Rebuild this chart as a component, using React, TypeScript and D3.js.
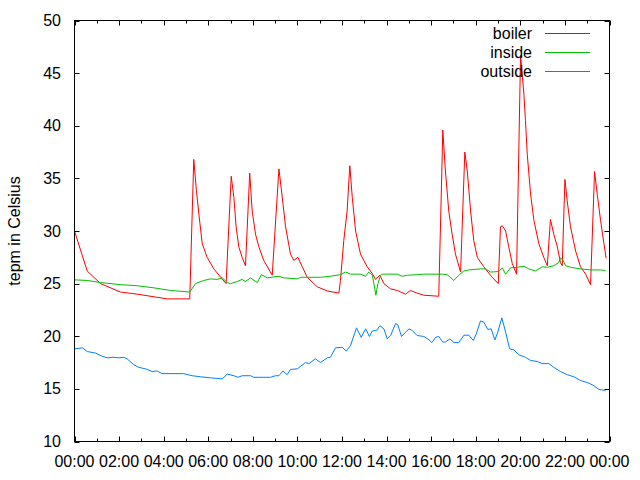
import React from "react";
import * as d3 from "d3";

// time in hours since 00:00
const boilerTimes = [0, 0.57, 1.17, 2.06, 2.81, 4.16, 5.17, 5.35, 5.47, 5.58, 5.73, 5.95, 6.25, 6.8, 7.03, 7.15, 7.25, 7.37, 7.52, 7.67, 7.86, 7.97, 8.12, 8.27, 8.49, 8.87, 9.17, 9.32, 9.47, 9.69, 9.84, 10.02, 10.22, 10.44, 10.89, 11.34, 11.86, 11.93, 12.08, 12.23, 12.35, 12.46, 12.61, 12.83, 13.13, 13.38, 13.5, 13.7, 13.88, 14.18, 14.48, 14.85, 15.07, 15.37, 15.67, 16.34, 16.5, 16.52, 16.64, 16.79, 16.94, 17.09, 17.32, 17.51, 17.62, 17.77, 17.91, 18.07, 18.36, 18.74, 19.01, 19.11, 19.19, 19.34, 19.48, 19.64, 19.83, 20.01, 20.16, 20.23, 20.31, 20.46, 20.61, 20.83, 21.05, 21.21, 21.35, 21.5, 21.66, 21.8, 21.88, 22.0, 22.1, 22.25, 22.48, 22.7, 22.93, 23.15, 23.33, 23.45, 23.6, 23.75, 23.85];
const boilerValues = [30.0, 26.2, 25.0, 24.2, 24.0, 23.55, 23.55, 36.8, 33.85, 31.6, 28.8, 27.5, 26.4, 25.0, 35.2, 33.2, 30.4, 28.5, 27.5, 26.7, 35.5, 31.9, 29.7, 28.5, 27.2, 25.8, 35.9, 33.2, 30.4, 27.8, 27.2, 27.5, 26.6, 25.6, 24.7, 24.3, 24.1, 25.3, 29.1, 31.9, 36.2, 33.2, 30.0, 27.8, 26.6, 25.9, 25.4, 25.8, 25.0, 24.5, 24.35, 24.0, 24.35, 24.1, 23.9, 23.8, 37.6, 39.6, 35.7, 31.9, 29.7, 27.8, 26.1, 37.5, 35.7, 31.9, 29.1, 27.5, 26.6, 25.6, 25.0, 30.4, 30.5, 30.0, 28.5, 26.9, 25.9, 46.7, 43.0, 40.5, 37.3, 33.5, 31.0, 28.8, 27.5, 26.7, 31.1, 29.7, 28.5, 27.0, 26.7, 34.9, 32.9, 30.4, 28.1, 26.6, 25.9, 24.9, 35.65, 33.5, 31.0, 28.8, 27.4];

const insideTimes = [0, 0.57, 1.17, 2.06, 2.81, 3.56, 4.31, 5.17, 5.43, 5.8, 6.1, 6.4, 6.63, 6.85, 7.0, 7.3, 7.52, 7.67, 7.9, 8.2, 8.38, 8.65, 9.17, 9.39, 9.99, 10.14, 11.04, 11.48, 11.93, 12.16, 12.38, 12.83, 13.06, 13.2, 13.36, 13.43, 13.52, 13.61, 13.73, 13.81, 14.48, 14.7, 14.93, 15.37, 15.67, 16.5, 16.72, 17.02, 17.24, 17.47, 17.69, 18.21, 18.44, 18.66, 19.04, 19.19, 19.34, 19.56, 19.86, 20.16, 20.38, 20.68, 20.98, 21.21, 21.5, 21.73, 21.8, 21.91, 22.03, 22.25, 22.7, 23.15, 23.6, 23.82];
const insideValues = [25.36, 25.3, 25.1, 24.9, 24.8, 24.6, 24.35, 24.2, 25.0, 25.3, 25.45, 25.4, 25.55, 25.1, 25.0, 25.2, 25.4, 25.2, 25.55, 25.1, 25.85, 25.55, 25.7, 25.55, 25.45, 25.6, 25.6, 25.7, 25.85, 26.1, 25.9, 25.9, 25.7, 26.1, 25.8, 25.0, 23.9, 25.0, 25.8, 25.9, 25.9, 25.7, 25.8, 25.85, 25.9, 25.9, 25.85, 25.3, 25.8, 26.2, 26.3, 26.4, 26.4, 26.1, 26.15, 26.5, 25.9, 26.5, 26.55, 26.65, 26.4, 26.2, 26.6, 26.55, 26.7, 27.0, 27.45, 27.25, 26.7, 26.55, 26.4, 26.3, 26.3, 26.25];

const outsideTimes = [0, 0.35, 0.57, 0.94, 1.24, 1.47, 1.76, 1.99, 2.21, 2.36, 2.66, 2.88, 3.19, 3.49, 3.71, 3.93, 4.9, 5.28, 5.65, 6.1, 6.63, 6.85, 7.15, 7.33, 7.52, 7.9, 8.04, 8.49, 8.79, 9.02, 9.17, 9.35, 9.54, 9.69, 9.99, 10.36, 10.51, 10.81, 11.04, 11.34, 11.48, 11.71, 12.01, 12.19, 12.38, 12.65, 12.86, 13.06, 13.23, 13.36, 13.55, 13.7, 13.88, 14.03, 14.18, 14.4, 14.5, 14.67, 15.0, 15.15, 15.37, 15.67, 15.85, 16.03, 16.2, 16.34, 16.52, 16.64, 16.84, 17.02, 17.24, 17.47, 17.69, 17.89, 18.02, 18.21, 18.36, 18.54, 18.69, 18.86, 18.99, 19.17, 19.34, 19.52, 19.71, 19.93, 20.23, 20.46, 20.76, 20.98, 21.28, 21.5, 21.8, 22.1, 22.4, 22.7, 23.07, 23.3, 23.52, 23.82];
const outsideValues = [18.8, 18.9, 18.55, 18.4, 18.1, 17.95, 18.0, 17.95, 18.0, 17.85, 17.3, 17.05, 16.9, 16.65, 16.7, 16.45, 16.45, 16.25, 16.15, 16.05, 15.95, 16.4, 16.25, 16.1, 16.25, 16.25, 16.1, 16.1, 16.1, 16.25, 16.25, 16.7, 16.35, 16.85, 16.9, 17.5, 17.4, 17.85, 17.5, 17.95, 18.0, 18.9, 18.95, 18.6, 19.1, 20.8, 19.9, 20.7, 19.98, 20.5, 20.55, 21.0, 20.7, 19.75, 20.07, 21.2, 21.1, 19.98, 20.7, 20.55, 20.07, 19.98, 19.75, 19.4, 19.9, 19.98, 19.45, 19.45, 19.75, 19.4, 19.4, 20.1, 20.1, 19.6, 20.2, 21.45, 21.35, 20.65, 20.7, 19.65, 20.4, 21.75, 20.4, 18.8, 18.7, 18.25, 18.0, 17.7, 17.6, 17.4, 17.4, 17.05, 16.65, 16.35, 16.15, 15.8, 15.55, 15.3, 14.95, 14.85];

const seriesNames = ["boiler", "inside", "outside"];
const seriesColors = ["#ff0000", "#00c000", "#0080ff"];
const yTicks = [10, 15, 20, 25, 30, 35, 40, 45, 50];
const xMajorTicks = [0, 2, 4, 6, 8, 10, 12, 14, 16, 18, 20, 22, 24];
const xMinorTicks = [1, 3, 5, 7, 9, 11, 13, 15, 17, 19, 21, 23];
const yLabel = "tepm in Celsius";

const FONT = "'Liberation Sans', Arial, sans-serif";

export default function App() {
  const left = 74.5, right = 609.5, top = 20.5, bottom = 441.5;
  const x = d3.scaleLinear().domain([0, 24]).range([left, right]);
  const y = d3.scaleLinear().domain([10, 50]).range([bottom, top]);
  const fmt = (h: number) => `${String(h % 24).padStart(2, "0")}:00`;

  const series = [
    { t: boilerTimes, v: boilerValues },
    { t: insideTimes, v: insideValues },
    { t: outsideTimes, v: outsideValues },
  ];
  const line = d3
    .line<[number, number]>()
    .x((d) => x(d[0]))
    .y((d) => y(d[1]));

  const majorLen = 5, minorLen = 3;

  return (
    <svg
      width={640}
      height={480}
      style={{ position: "absolute", left: 0, top: 0, background: "#fff" }}
      fontFamily={FONT}
    >
      <rect x={0} y={0} width={640} height={480} fill="#fff" />
      {/* ticks */}
      <g stroke="#000" strokeWidth={1}>
        {yTicks.map((t) => (
          <g key={"y" + t}>
            <line x1={left} x2={left + majorLen} y1={Math.round(y(t)) + 0.5} y2={Math.round(y(t)) + 0.5} />
            <line x1={right} x2={right - majorLen} y1={Math.round(y(t)) + 0.5} y2={Math.round(y(t)) + 0.5} />
          </g>
        ))}
        {xMajorTicks.map((t) => (
          <g key={"xM" + t}>
            <line x1={Math.round(x(t)) + 0.5} x2={Math.round(x(t)) + 0.5} y1={bottom} y2={bottom - majorLen} />
            <line x1={Math.round(x(t)) + 0.5} x2={Math.round(x(t)) + 0.5} y1={top} y2={top + majorLen} />
          </g>
        ))}
        {xMinorTicks.map((t) => (
          <g key={"xm" + t}>
            <line x1={Math.round(x(t)) + 0.5} x2={Math.round(x(t)) + 0.5} y1={bottom} y2={bottom - minorLen} />
            <line x1={Math.round(x(t)) + 0.5} x2={Math.round(x(t)) + 0.5} y1={top} y2={top + minorLen} />
          </g>
        ))}
      </g>
      {/* tick labels */}
      <g fontSize={16} fill="#000">
        {yTicks.map((t) => (
          <text key={"yl" + t} x={61} y={y(t)} textAnchor="end" dominantBaseline="central">
            {t}
          </text>
        ))}
        {xMajorTicks.map((t) => (
          <text key={"xl" + t} x={x(t)} y={467} textAnchor="middle">
            {fmt(t)}
          </text>
        ))}
        <text
          transform={`translate(20, ${(top + bottom) / 2}) rotate(-90)`}
          textAnchor="middle"
        >
          {yLabel}
        </text>
      </g>
      {/* data */}
      <g fill="none" strokeWidth={1}>
        {series.map((s, i) => (
          <path
            key={seriesNames[i]}
            d={line(s.t.map((tt, j) => [tt, s.v[j]] as [number, number])) || ""}
            stroke={seriesColors[i]}
          />
        ))}
      </g>
      {/* legend */}
      <g fontSize={16}>
        {seriesNames.map((n, i) => (
          <g key={"lg" + n}>
            <text x={532} y={33 + i * 19} textAnchor="end" dominantBaseline="central" fill="#000">
              {n}
            </text>
            <line x1={545} x2={590} y1={33.5 + i * 19} y2={33.5 + i * 19} stroke={seriesColors[i]} />
          </g>
        ))}
      </g>
      {/* border */}
      <rect x={left} y={top} width={right - left} height={bottom - top} fill="none" stroke="#000" />
    </svg>
  );
}
